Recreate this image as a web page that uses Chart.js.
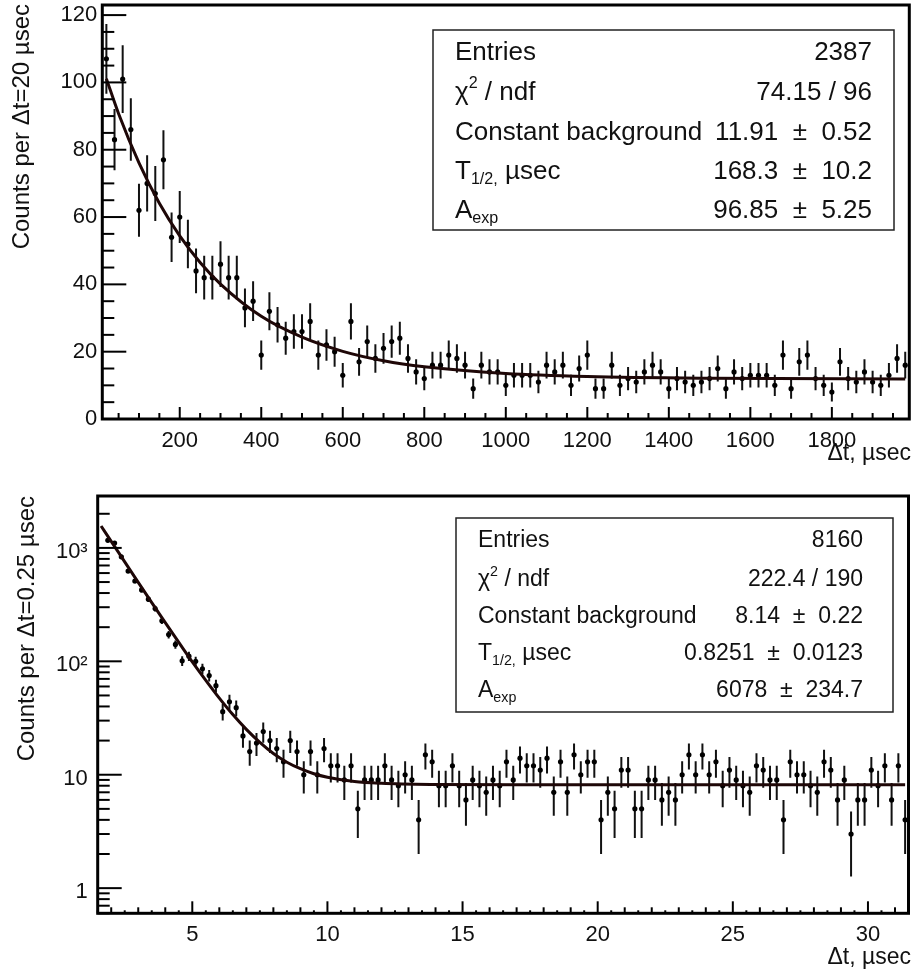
<!DOCTYPE html>
<html>
<head>
<meta charset="utf-8">
<script src="https://cdn.jsdelivr.net/npm/chart.js@4"></script>
<style>
  body { margin: 0; background: #fff; }
  canvas { position: absolute; left: 0; }
  #top { top: 0; }
  #bottom { top: 480px; }
</style>
</head>
<body>
<canvas id="top" width="915" height="480"></canvas>
<canvas id="bottom" width="915" height="493"></canvas>
<script>
// upper histogram: 20 usec bins, centres 20 ... 1980
const topFirstCenter = 20;
const topBinWidth = 20;
const topCounts = [107, 83, 101, 86, 62, 70, 67, 77, 54, 60,
  52, 44, 42, 42, 46, 42, 42, 33, 35, 19,
  32, 28, 24, 26, 26, 29, 19, 22, 20, 13,
  29, 17, 23, 18, 21, 23, 24, 18, 14, 12,
  16, 16, 19, 18, 16, 9, 16, 14, 14, 10,
  13, 13, 13, 11, 16, 14, 16, 10, 15, 19,
  9, 9, 16, 10, 12, 11, 14, 16, 14, 9,
  12, 11, 10, 11, 12, 15, 9, 14, 12, 13,
  13, 13, 10, 19, 9, 17, 19, 12, 10, 8,
  17, 12, 11, 14, 11, 10, 13, 18, 16];
// fit curve
const topFitT = [20, 50, 100, 150, 200, 250, 300, 400, 500, 600, 700, 800, 1000, 1200, 1500, 1980];
const topFitY = [101.1, 90.7, 76.1, 64.1, 54.4, 46.5, 40.1, 30.5, 24.3, 20.1, 17.3, 15.5, 13.5, 12.6, 12.1, 11.9];
const topXTicks = [200, 400, 600, 800, 1000, 1200, 1400, 1600, 1800];
const topYTicks = [0, 20, 40, 60, 80, 100, 120];
const topStats = [
  [[['Entries', 0]], '2387'],
  [[['χ', 0], ['2', 1], [' / ndf', 0]], '74.15 / 96'],
  [[['Constant background', 0]], '11.91  ±  0.52'],
  [[['T', 0], ['1/2,', -1], [' µsec', 0]], '168.3  ±  10.2'],
  [[['A', 0], ['exp', -1]], '96.85  ±  5.25']
];

// lower histogram: 0.25 usec bins, first visible centre 1.875
const botFirstCenter = 1.875;
const botBinWidth = 0.25;
const botCounts = [1166, 1105, 834, 625, 511, 426, 353, 292, 228, 172,
  141, 101, 111, 100, 86, 75, 61, 36, 44, 39,
  22, 16, 19, 24, 20, 17, 13, 20, 16, 10,
  16, 10, 17, 12, 12, 9, 12, 5, 9, 9,
  9, 12, 9, 8, 10, 9, 4, 15, 13, 8,
  8, 12, 8, 6, 9, 8, 7, 9, 8, 13,
  9, 14, 12, 12, 11, 14, 7, 13, 7, 15,
  10, 13, 13, 4, 7, 5, 11, 11, 5, 5,
  9, 9, 6, 7, 6, 10, 15, 10, 15, 10,
  13, 8, 11, 9, 8, 7, 12, 11, 9, 9,
  4, 13, 10, 10, 8, 7, 13, 11, 6, 9,
  3, 6, 6, 11, 8, 12, 6, 12, 4];
const botFitT = [1.625, 2, 2.5, 3, 3.5, 4, 4.5, 5, 5.5, 6, 6.5, 7, 7.5, 8, 8.5, 9, 9.5, 10, 11, 12, 14, 17, 31.375];
const botFitY = [1560, 1143, 753, 497, 329, 219, 147, 99, 68, 47.4, 33.9, 25.1, 19.3, 15.4, 12.9, 11.3, 10.2, 9.5, 8.7, 8.4, 8.2, 8.14, 8.14];
const botXTicks = [5, 10, 15, 20, 25, 30];
const botYTicks = [1, 10, 100, 1000];
const botYLabels = { 1: '1', 10: '10', 100: '10²', 1000: '10³' };
const botStats = [
  [[['Entries', 0]], '8160'],
  [[['χ', 0], ['2', 1], [' / ndf', 0]], '222.4 / 190'],
  [[['Constant background', 0]], '8.14  ±  0.22'],
  [[['T', 0], ['1/2,', -1], [' µsec', 0]], '0.8251  ±  0.0123'],
  [[['A', 0], ['exp', -1]], '6078  ±  234.7']
];

const FONT = '"Liberation Sans", Arial, Helvetica, sans-serif';

const panels = {
  top: {
    xMajorStep: 200, xMinorStep: 50, xTertStep: 0, yMajorStep: 20, yMinorStep: 5, log: false,
    xTitleY: 454, yTitle: 'Counts per Δt=20 µsec', yTitleX: 22, yTitleTop: 4,
    box: { x: 433, y: 30, w: 461, h: 200, left: 455, right: 872, size: 26, rows: [53, 93, 133, 172, 211] },
    stats: topStats
  },
  bottom: {
    xMajorStep: 5, xMinorStep: 1, xTertStep: 0.5, log: true,
    xTitleY: 478, yTitle: 'Counts per Δt=0.25 µsec', yTitleX: 27, yTitleTop: 16,
    box: { x: 456, y: 38, w: 437, h: 194, left: 478, right: 863, size: 23, rows: [61, 100, 137, 174, 211] },
    stats: botStats
  }
};

function rich(ctx, parts, x, y, size) {
  let cx = x;
  ctx.textAlign = 'left';
  parts.forEach(p => {
    const s = p[1] ? size * 0.62 : size;
    ctx.font = s + 'px ' + FONT;
    const dy = p[1] === 1 ? -size * 0.36 : (p[1] === -1 ? size * 0.3 : 0);
    ctx.fillText(p[0], cx, y + dy);
    cx += ctx.measureText(p[0]).width;
  });
}

function tick(ctx, x1, y1, x2, y2) {
  ctx.beginPath(); ctx.moveTo(x1, y1); ctx.lineTo(x2, y2); ctx.stroke();
}

const decor = {
  id: 'decor',
  beforeDatasetsDraw(chart) {
    // error bars, sqrt(N)
    const ctx = chart.ctx, a = chart.chartArea, ys = chart.scales.y;
    const pts = chart.data.datasets[0].data;
    const meta = chart.getDatasetMeta(0);
    ctx.save();
    ctx.beginPath(); ctx.rect(a.left, a.top, a.right - a.left, a.bottom - a.top); ctx.clip();
    ctx.strokeStyle = '#111'; ctx.lineWidth = 2;
    meta.data.forEach((el, i) => {
      const v = pts[i].y, e = Math.sqrt(v);
      const lo = v - e > 0 ? ys.getPixelForValue(v - e) : a.bottom;
      tick(ctx, el.x, ys.getPixelForValue(v + e), el.x, lo);
    });
    ctx.restore();
  },
  afterDraw(chart) {
    const p = panels[chart.canvas.id];
    const ctx = chart.ctx, a = chart.chartArea, xs = chart.scales.x, ys = chart.scales.y;
    ctx.save();
    ctx.strokeStyle = '#000';
    // inward ticks
    ctx.lineWidth = 2;
    const eps = 1e-6;
    for (let v = Math.ceil(xs.min / p.xMinorStep) * p.xMinorStep; v <= xs.max + eps; v += p.xMinorStep) {
      const major = Math.abs(v / p.xMajorStep - Math.round(v / p.xMajorStep)) < eps;
      const px = xs.getPixelForValue(v);
      tick(ctx, px, a.bottom, px, a.bottom - (major ? 12 : 6));
    }
    if (p.xTertStep) {
      for (let v = Math.ceil(xs.min / p.xTertStep) * p.xTertStep; v <= xs.max + eps; v += p.xTertStep) {
        if (Math.abs(v - Math.round(v)) < eps) continue;
        const px = xs.getPixelForValue(v);
        tick(ctx, px, a.bottom, px, a.bottom - 3);
      }
    }
    if (p.log) {
      for (let d = 0.1; d < ys.max; d *= 10) {
        for (let k = 1; k <= 9; k++) {
          const v = k * d;
          if (v < ys.min || v > ys.max) continue;
          const py = ys.getPixelForValue(v);
          tick(ctx, a.left, py, a.left + (k === 1 ? 24 : 12), py);
        }
      }
    } else {
      for (let v = 0; v <= ys.max + eps; v += p.yMinorStep) {
        const major = Math.abs(v % p.yMajorStep) < eps;
        const py = ys.getPixelForValue(v);
        tick(ctx, a.left, py, a.left + (major ? 24 : 12), py);
      }
    }
    // frame
    ctx.lineWidth = 3;
    ctx.strokeRect(a.left, a.top, a.right - a.left, a.bottom - a.top);
    // axis titles
    ctx.fillStyle = '#111';
    ctx.font = '23px ' + FONT;
    ctx.textAlign = 'right'; ctx.textBaseline = 'middle';
    ctx.fillText('Δt, µsec', 911, p.xTitleY);
    ctx.save();
    ctx.translate(p.yTitleX, p.yTitleTop);
    ctx.rotate(-Math.PI / 2);
    ctx.font = '24px ' + FONT;
    ctx.textAlign = 'right';
    ctx.fillText(p.yTitle, 0, 0);
    ctx.restore();
    // stats box
    const b = p.box;
    ctx.fillStyle = '#fff';
    ctx.fillRect(b.x, b.y, b.w, b.h);
    ctx.lineWidth = 1.5; ctx.strokeStyle = '#222';
    ctx.strokeRect(b.x, b.y, b.w, b.h);
    ctx.fillStyle = '#111';
    p.stats.forEach((r, i) => {
      rich(ctx, r[0], b.left, b.rows[i], b.size);
      ctx.font = b.size + 'px ' + FONT;
      ctx.textAlign = 'right';
      ctx.fillText(r[1], b.right, b.rows[i]);
    });
    ctx.restore();
  }
};

const tickFont = { family: FONT, size: 22 };

function makeChart(id, pts, fit, x, y, pad) {
  return new Chart(document.getElementById(id), {
    type: 'scatter',
    data: {
      datasets: [
        { data: pts, showLine: false, pointRadius: 2.6, pointBackgroundColor: '#000', pointBorderWidth: 0, order: 2 },
        { data: fit, showLine: true, pointRadius: 0, borderColor: '#1e0707', borderWidth: 3,
          cubicInterpolationMode: 'monotone', fill: false, order: 1 }
      ]
    },
    options: {
      responsive: false, animation: false, devicePixelRatio: 1,
      layout: { padding: pad },
      plugins: { legend: { display: false }, tooltip: { enabled: false } },
      scales: { x: x, y: y }
    },
    plugins: [decor]
  });
}

makeChart('top',
  topCounts.map((c, i) => ({ x: topFirstCenter + i * topBinWidth, y: c })),
  topFitT.map((t, i) => ({ x: t, y: topFitY[i] })),
  {
    type: 'linear', min: 10, max: 1990,
    grid: { display: false, drawTicks: false }, border: { display: false },
    afterBuildTicks: s => { s.ticks = topXTicks.map(v => ({ value: v })); },
    afterFit: s => { s.height = 61; s.paddingLeft = 0; s.paddingRight = 0; },
    ticks: { font: tickFont, color: '#111', padding: 9, maxRotation: 0, autoSkip: false,
      callback: v => String(v) }
  },
  {
    type: 'linear', min: 0, max: 123,
    grid: { display: false, drawTicks: false }, border: { display: false },
    afterBuildTicks: s => { s.ticks = topYTicks.map(v => ({ value: v })); },
    afterFit: s => { s.width = 102.3; s.paddingTop = 0; s.paddingBottom = 0; },
    ticks: { font: tickFont, color: '#111', padding: 5, autoSkip: false, callback: v => String(v) }
  },
  { top: 5, right: 5.7, left: 0, bottom: 0 });

makeChart('bottom',
  botCounts.map((c, i) => ({ x: botFirstCenter + i * botBinWidth, y: c })),
  botFitT.map((t, i) => ({ x: t, y: botFitY[i] })),
  {
    type: 'linear', min: 1.5, max: 31.5,
    grid: { display: false, drawTicks: false }, border: { display: false },
    afterBuildTicks: s => { s.ticks = botXTicks.map(v => ({ value: v })); },
    afterFit: s => { s.height = 59.7; s.paddingLeft = 0; s.paddingRight = 0; },
    ticks: { font: tickFont, color: '#111', padding: 8, maxRotation: 0, autoSkip: false,
      callback: v => String(v) }
  },
  {
    type: 'logarithmic', min: 0.638, max: 2869,
    grid: { display: false, drawTicks: false }, border: { display: false },
    afterBuildTicks: s => { s.ticks = botYTicks.map(v => ({ value: v })); },
    afterFit: s => { s.width = 97.7; s.paddingTop = 0; s.paddingBottom = 0; },
    ticks: { font: tickFont, color: '#111', padding: 10, labelOffset: 4, autoSkip: false,
      callback: v => botYLabels[v] }
  },
  { top: 16, right: 6.5, left: 0, bottom: 0 });
</script>
</body>
</html>
